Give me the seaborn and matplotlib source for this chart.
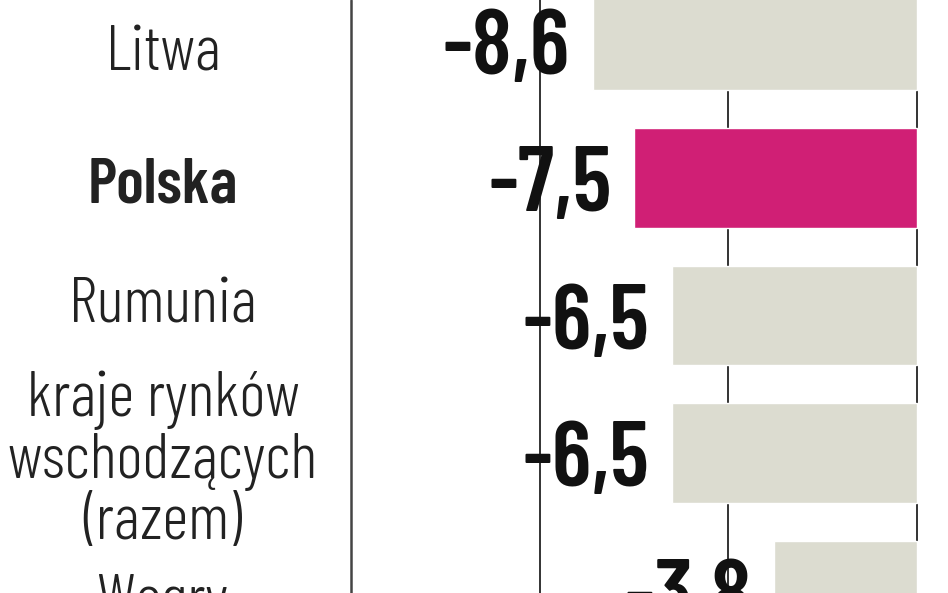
import matplotlib
matplotlib.use("Agg")
import matplotlib.pyplot as plt
import seaborn as sns
import pandas as pd

# data
countries = ["Litwa", "Polska", "Rumunia",
             "kraje rynków\nwschodzących\n(razem)", "Węgry"]
values = [-8.6, -7.5, -6.5, -6.5, -3.8]
labels = ["-8,6", "-7,5", "-6,5", "-6,5", "-3,8"]
bold = [False, True, False, False, False]
colors = ["#dcdcd0", "#d01f75", "#dcdcd0", "#dcdcd0", "#dcdcd0"]

df = pd.DataFrame({"kraj": countries, "wartosc": values})

sns.set_style("white")
plt.rcParams["font.family"] = ["Barlow Condensed", "DejaVu Sans"]

fig = plt.figure(figsize=(9.48, 5.93), dpi=100)
ax = fig.add_axes([0, 0, 1, 1])

sns.barplot(data=df, y="kraj", x="wartosc", hue="kraj", palette=colors,
            orient="h", width=0.727, saturation=1, legend=False, ax=ax, zorder=2)

# grid lines behind bars
for gx in [-10, -5, 0]:
    ax.axvline(gx, color="#333333", lw=1.4, zorder=1)
# separator between labels and bars
ax.axvline(-15, color="#444444", lw=1.8, zorder=1)

# small vertical nudges of the category names, as in the original layout
name_nudge = [0.105, 0.06, -0.065, 0.06, 0.09]

for i, (name, v, lab, b) in enumerate(zip(countries, values, labels, bold)):
    ax.text(-20, i + name_nudge[i], name, ha="center", va="center", fontsize=46,
            color="#222222", fontweight=600 if b else 300,
            linespacing=1.06, zorder=3)
    ax.text(v - 0.6, i + 0.07, lab, ha="right", va="center", fontsize=66,
            fontweight=600, color="#111111", zorder=3)

ax.set_xlim(-24.32, 0.822)
ax.set_ylim(4.018, -0.2945)
ax.set_axis_off()

plt.savefig("out.png", dpi=100)
